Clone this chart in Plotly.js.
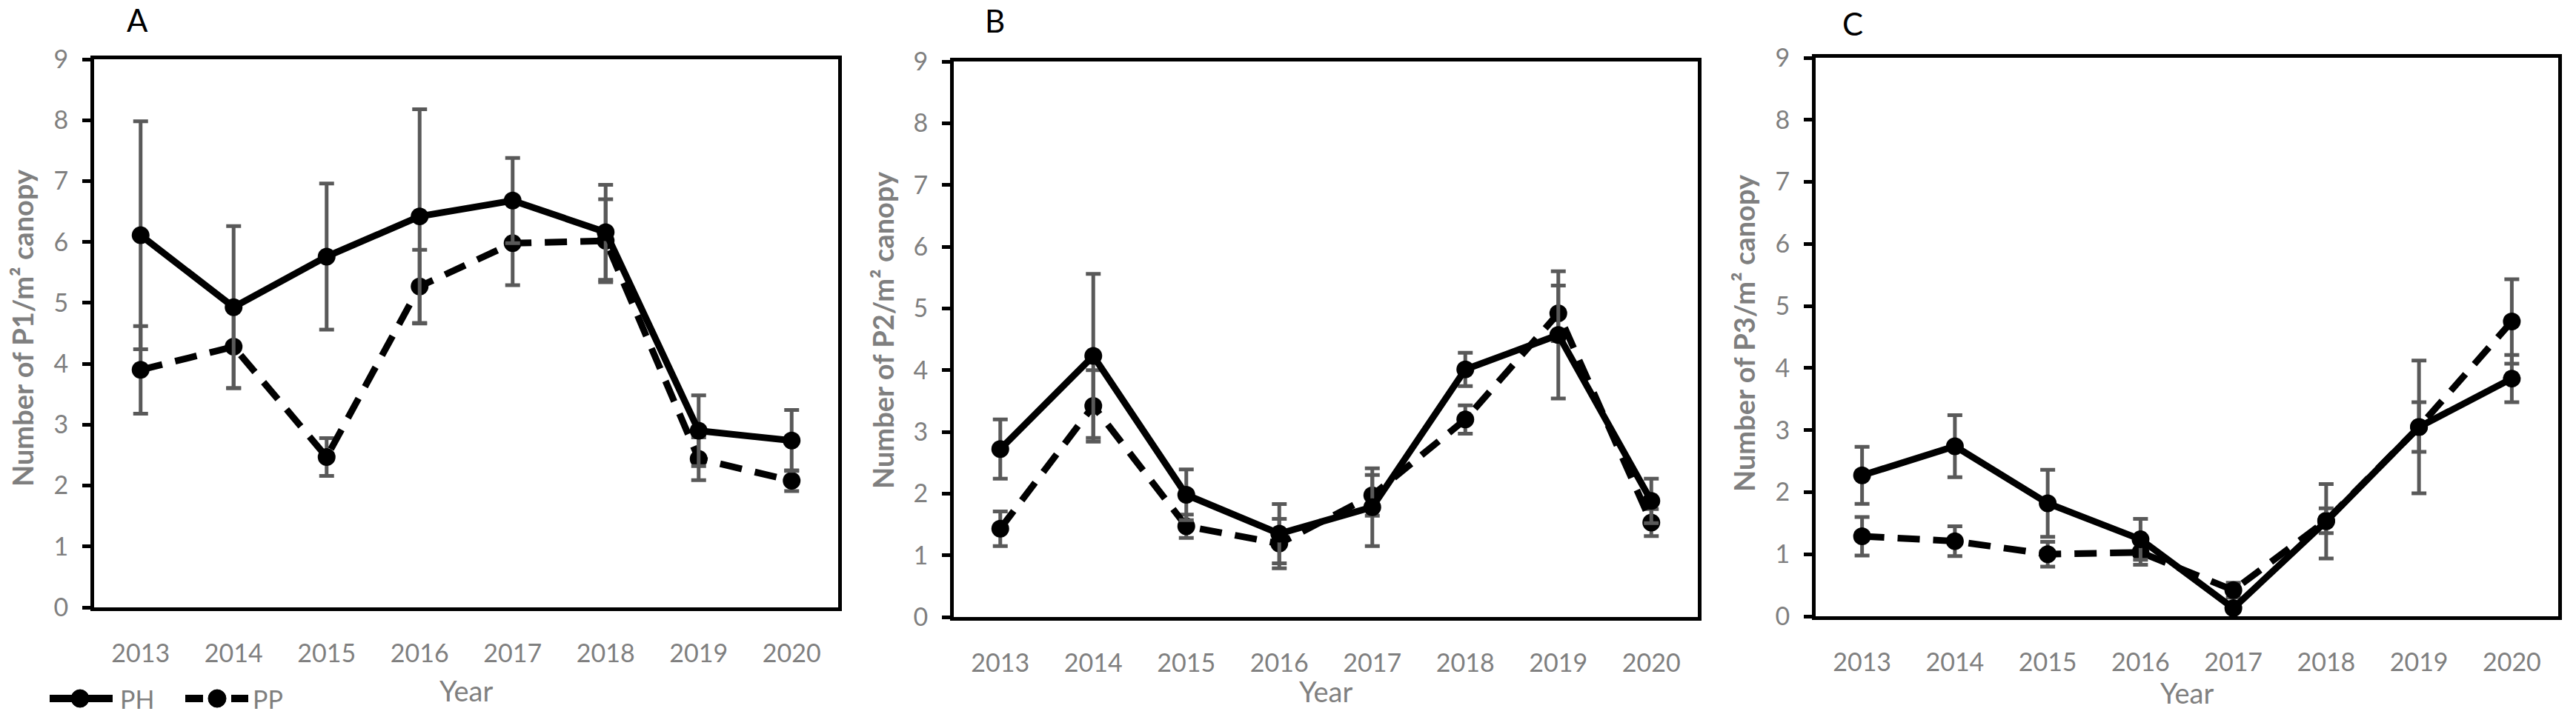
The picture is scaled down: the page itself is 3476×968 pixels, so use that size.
<!DOCTYPE html>
<html>
<head>
<meta charset="utf-8">
<script src="https://cdn.plot.ly/plotly-3.0.1.min.js"></script>
<style>html,body{margin:0;padding:0;background:#fff;}#chart{width:3476px;height:968px;}</style>
</head>
<body>
<div id="chart"></div>
<script>
// ---- data ----
const years = ['2013', '2014', '2015', '2016', '2017', '2018', '2019', '2020'];
const seriesNames = ['PH', 'PP'];
const yTickVals = [0, 1, 2, 3, 4, 5, 6, 7, 8, 9];

const p1_PH = [6.11, 4.93, 5.76, 6.42, 6.68, 6.16, 2.90, 2.74];
const p1_PH_err = [1.87, 1.33, 1.20, 1.76, 0.70, 0.78, 0.58, 0.50];
const p1_PP = [3.90, 4.28, 2.47, 5.27, 5.98, 6.02, 2.44, 2.08];
const p1_PP_err = [0.72, 0.68, 0.31, 0.60, 0.69, 0.68, 0.35, 0.17];

const p2_PH = [2.72, 4.23, 1.98, 1.35, 1.78, 4.01, 4.57, 1.88];
const p2_PH_err = [0.48, 1.33, 0.41, 0.48, 0.63, 0.27, 1.03, 0.36];
const p2_PP = [1.43, 3.42, 1.47, 1.19, 1.97, 3.20, 4.92, 1.53];
const p2_PP_err = [0.28, 0.58, 0.19, 0.40, 0.33, 0.23, 0.45, 0.22];

const p3_PH = [2.27, 2.74, 1.82, 1.24, 0.13, 1.53, 3.05, 3.83];
const p3_PH_err = [0.46, 0.50, 0.54, 0.33, 0.05, 0.60, 1.07, 0.38];
const p3_PP = [1.29, 1.21, 1.00, 1.03, 0.42, 1.54, 3.05, 4.75];
const p3_PP_err = [0.31, 0.24, 0.20, 0.20, 0.12, 0.20, 0.40, 0.68];

const panelLetters = ['A', 'B', 'C'];
const yTitles = ['Number of P1/m² canopy', 'Number of P2/m² canopy', 'Number of P3/m² canopy'];
const xTitle = 'Year';

// ---- layout helpers ----
const W = 3476, H = 968;
const px = v => v / W;
const py = v => 1 - v / H;
const FONT = 'Lato, "Open Sans", sans-serif';
const GRAY = '#7f7f7f';
const ERR = '#595959';

const panels = [
  {ph: p1_PH, phe: p1_PH_err, pp: p1_PP, ppe: p1_PP_err, x0: 127, x1: 1131, y0: 80, y1: 820, ytx: 30, yty: 443, lx: 185, ly: 27, yearY: 932},
  {ph: p2_PH, phe: p2_PH_err, pp: p2_PP, ppe: p2_PP_err, x0: 1287, x1: 2291, y0: 83, y1: 833, ytx: 1191, yty: 446, lx: 1342, ly: 28, yearY: 933},
  {ph: p3_PH, phe: p3_PH_err, pp: p3_PP, ppe: p3_PP_err, x0: 2450, x1: 3452, y0: 78, y1: 832, ytx: 2353, yty: 450, lx: 2500, ly: 32, yearY: 935}
];

const traces = [];
const layout = {
  width: W, height: H,
  margin: {l: 0, r: 0, t: 0, b: 0},
  paper_bgcolor: '#fff', plot_bgcolor: '#fff',
  showlegend: false,
  font: {family: FONT, color: GRAY},
  annotations: [],
  shapes: []
};

panels.forEach((p, i) => {
  const s = i === 0 ? '' : String(i + 1);
  const xa = 'x' + s, ya = 'y' + s;
  const common = {
    x: years, xaxis: xa, yaxis: ya, type: 'scatter', mode: 'lines+markers',
    marker: {color: '#000', size: 24},
    cliponaxis: false
  };
  traces.push(Object.assign({}, common, {
    name: seriesNames[1], y: p.pp,
    line: {color: '#000', width: 9, dash: '30px,18px'},
    error_y: {type: 'data', array: p.ppe, visible: true, color: ERR, thickness: 5, width: 10}
  }));
  traces.push(Object.assign({}, common, {
    name: seriesNames[0], y: p.ph,
    line: {color: '#000', width: 9},
    error_y: {type: 'data', array: p.phe, visible: true, color: ERR, thickness: 5, width: 10}
  }));

  layout['xaxis' + s] = {
    domain: [px(p.x0), px(p.x1)], anchor: ya,
    type: 'category', range: [-0.5, 7.5],
    showline: true, mirror: true, linecolor: '#000', linewidth: 5,
    showgrid: false, zeroline: false, ticks: '',
    ticklabelstandoff: 28,
    tickfont: {family: FONT, size: 34, color: GRAY},
    fixedrange: true
  };
  layout['yaxis' + s] = {
    domain: [py(p.y1), py(p.y0)], anchor: xa,
    range: [0, 9], tickvals: yTickVals,
    showline: true, mirror: true, linecolor: '#000', linewidth: 5,
    showgrid: false, zeroline: false,
    ticks: 'outside', ticklen: 11, tickwidth: 5, tickcolor: '#000',
    ticklabelstandoff: 12,
    tickfont: {family: FONT, size: 34, color: GRAY},
    fixedrange: true
  };

  layout.annotations.push({
    text: panelLetters[i], xref: 'paper', yref: 'paper', x: px(p.lx), y: py(p.ly),
    xanchor: 'center', yanchor: 'middle', showarrow: false,
    font: {family: FONT, size: 42, color: '#000'}
  });
  layout.annotations.push({
    text: yTitles[i], xref: 'paper', yref: 'paper', x: px(p.ytx), y: py(p.yty),
    xanchor: 'center', yanchor: 'middle', showarrow: false, textangle: -90,
    font: {family: FONT, size: 38, color: GRAY, weight: 'bold'}
  });
  layout.annotations.push({
    text: xTitle, xref: 'paper', yref: 'paper', x: px((p.x0 + p.x1) / 2), y: py(p.yearY),
    xanchor: 'center', yanchor: 'middle', showarrow: false,
    font: {family: FONT, size: 38, color: GRAY}
  });
});

// ---- custom legend (long line symbols like the original) ----
const LY = 943, R = 12;
layout.shapes.push({type: 'line', xref: 'paper', yref: 'paper', x0: px(67), x1: px(152), y0: py(LY), y1: py(LY), line: {color: '#000', width: 10}});
layout.shapes.push({type: 'circle', xref: 'paper', yref: 'paper', x0: px(108 - R), x1: px(108 + R), y0: py(LY + R), y1: py(LY - R), fillcolor: '#000', line: {color: '#000', width: 1}});
layout.shapes.push({type: 'line', xref: 'paper', yref: 'paper', x0: px(250), x1: px(274), y0: py(LY), y1: py(LY), line: {color: '#000', width: 10}});
layout.shapes.push({type: 'line', xref: 'paper', yref: 'paper', x0: px(312), x1: px(335), y0: py(LY), y1: py(LY), line: {color: '#000', width: 10}});
layout.shapes.push({type: 'circle', xref: 'paper', yref: 'paper', x0: px(293 - R), x1: px(293 + R), y0: py(LY + R), y1: py(LY - R), fillcolor: '#000', line: {color: '#000', width: 1}});
layout.annotations.push({text: seriesNames[0], xref: 'paper', yref: 'paper', x: px(160), y: py(LY), xanchor: 'left', yanchor: 'middle', showarrow: false, font: {family: FONT, size: 34, color: GRAY}});
layout.annotations.push({text: seriesNames[1], xref: 'paper', yref: 'paper', x: px(339), y: py(LY), xanchor: 'left', yanchor: 'middle', showarrow: false, font: {family: FONT, size: 34, color: GRAY}});

Plotly.newPlot('chart', traces, layout, {displayModeBar: false, staticPlot: true});
</script>
</body>
</html>
